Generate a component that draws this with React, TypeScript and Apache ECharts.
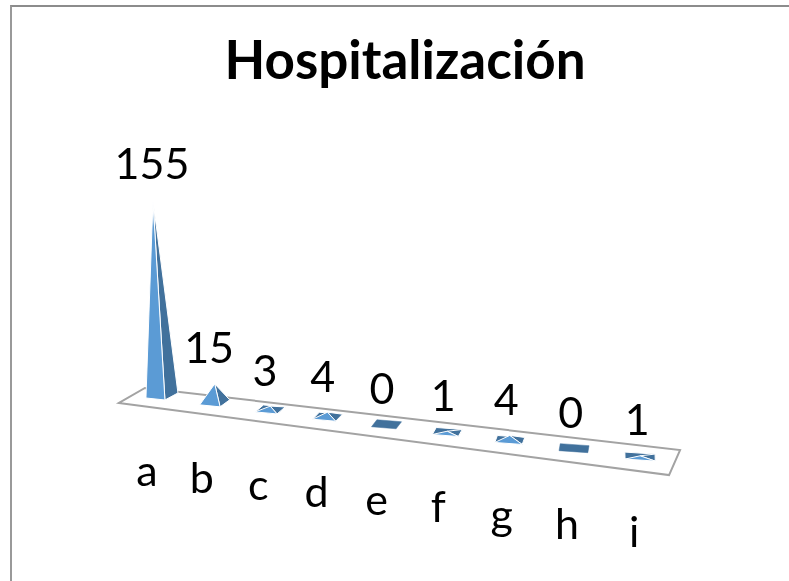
import React, { useEffect, useRef } from "react";
import * as echarts from "echarts";

const categories = ["a", "b", "c", "d", "e", "f", "g", "h", "i"];
const values = [155, 15, 3, 4, 0, 1, 4, 0, 1];
const titleText = "Hospitalización";

const LIGHT = "#5B9BD5";
const DARK = "#41719C";
const FONT = "Lato, Carlito, 'Open Sans', sans-serif";
const SKEW = 0.1275;
const FIRST_X = 161;

// Oblique projection of the floor: keeps the ECharts scale for value and index,
// and adds the perspective drift along the slanted floor.
function project(api: any, i: number, v: number) {
  const base = api.coord([i, 0]);
  const top = api.coord([i, v]);
  const t = (i - 4) / 4;
  const x = base[0] - 14 * (1 - t * t);
  const y = base[1] + (x - FIRST_X) * SKEW;
  return { x, y, apexY: y - (base[1] - top[1]) };
}

function fade(color: string) {
  return new echarts.graphic.LinearGradient(0, 0, 0, 1, [
    { offset: 0, color: "#ffffff" },
    { offset: 0.14, color },
    { offset: 1, color },
  ]);
}

function renderFloor(_: any, api: any) {
  const p0 = project(api, 0, 0);
  const p8 = project(api, categories.length - 1, 0);
  return {
    type: "polygon",
    shape: {
      points: [
        [p0.x - 42, p0.y + 7],
        [p8.x + 29, p8.y + 18],
        [p8.x + 40, p8.y - 7],
        [p0.x - 16, p0.y - 8],
      ],
    },
    style: { fill: "none", stroke: "#a3a3a3", lineWidth: 2 },
    silent: true,
  };
}

function renderPyramid(params: any, api: any) {
  const i = params.dataIndex;
  const v = api.value(1) as number;
  const { x, y, apexY } = project(api, i, v);
  const f = 4 + i * 1.4;
  const L = [x - 15, y + 2];
  const F = [x + f, y + 4];
  const R = [x + 15 + (i === 0 ? 2 : 0), y - 3];
  const B = [x - f, y - 5];
  const A = [x - (i === 0 ? 8 : 0), apexY];
  const children: any[] = [];
  if (v === 0 || v < 10) {
    children.push({
      type: "polygon",
      shape: { points: [L, F, R, B] },
      style: { fill: DARK, stroke: v === 0 ? DARK : "#ffffff", lineWidth: v === 0 ? 0.5 : 1 },
    });
  }
  if (v > 0) {
    children.push(
      {
        type: "polygon",
        shape: { points: [F, R, A] },
        style: { fill: v > 50 ? fade(DARK) : DARK, stroke: "#ffffff", lineWidth: 1 },
      },
      {
        type: "polygon",
        shape: { points: [L, F, A] },
        style: { fill: v > 50 ? fade(LIGHT) : LIGHT, stroke: "#ffffff", lineWidth: 1 },
      }
    );
  }
  children.push(
    {
      type: "text",
      style: {
        text: String(v),
        x: x - 6 + i * 0.4 - (i === 0 ? 3 : 0),
        y: apexY - 37,
        fill: "#000000",
        fontFamily: FONT,
        fontSize: 43,
        align: "center",
        verticalAlign: "middle",
      },
    },
    {
      type: "text",
      style: {
        text: categories[i],
        x: x - 14 + i,
        y: y + 52,
        fill: "#000000",
        fontFamily: FONT,
        fontSize: 43,
        align: "center",
        verticalAlign: "top",
      },
    }
  );
  return { type: "group", children };
}

export default function App() {
  const ref = useRef<HTMLDivElement>(null);
  useEffect(() => {
    const chart = echarts.init(ref.current!, null, { renderer: "svg" });
    chart.setOption({
      animation: false,
      title: {
        text: titleText,
        left: 400,
        top: 27,
        textAlign: "center",
        textStyle: { fontFamily: FONT, fontSize: 53, fontWeight: "bold", color: "#000000" },
      },
      grid: { left: 131, width: 539, top: 200, bottom: 185 },
      xAxis: { type: "category", data: categories, show: false },
      yAxis: { type: "value", min: 0, max: 155, show: false },
      series: [
        {
          type: "custom",
          data: [[0, 0]],
          encode: { x: 0, y: 1 },
          clip: false,
          silent: true,
          renderItem: renderFloor,
        },
        {
          type: "custom",
          data: values.map((v, i) => [i, v]),
          encode: { x: 0, y: 1 },
          clip: false,
          silent: true,
          renderItem: renderPyramid,
        },
      ],
    });
    return () => chart.dispose();
  }, []);
  return (
    <div style={{ position: "absolute", left: 0, top: 0, width: 789, height: 581, overflow: "hidden", background: "#fff" }}>
      <div
        ref={ref}
        style={{ position: "absolute", left: 0, top: 0, width: 789, height: 581, filter: "blur(0.6px)" }}
      />
      <div
        style={{
          position: "absolute",
          left: 10,
          top: 5,
          width: 779,
          height: 576,
          boxSizing: "border-box",
          borderLeft: "2px solid #999999",
          borderTop: "2px solid #8c8c8c",
        }}
      />
    </div>
  );
}
